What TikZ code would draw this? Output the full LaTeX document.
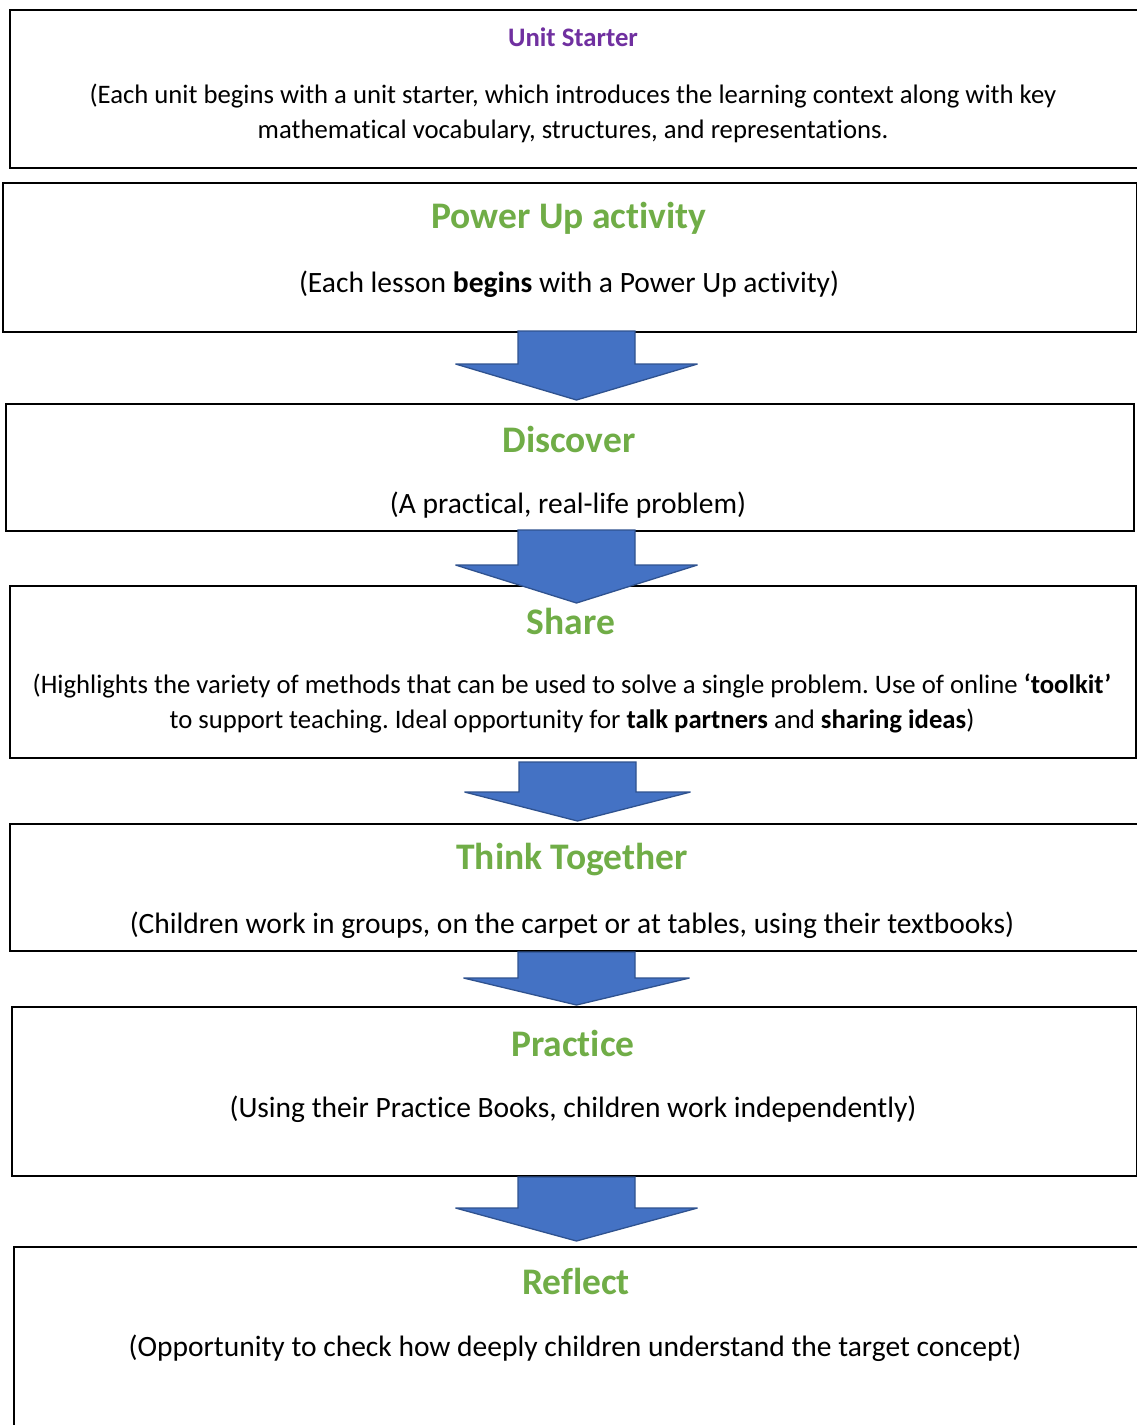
\documentclass[tikz,border=0pt]{standalone}
\usepackage{fontspec}
\setmainfont{Carlito}[Ligatures=NoCommon]
\frenchspacing
\definecolor{titlegreen}{HTML}{70AD47}
\definecolor{titlepurple}{HTML}{7030A0}
\definecolor{arrowfill}{HTML}{4472C4}
\definecolor{arrowedge}{HTML}{2F528F}
\newcommand{\flowarrow}[6]{% cx, top, shoulder, tip, half shaft, half wing
  \draw[blockarrow] ({#1-#5},#2) -- ({#1+#5},#2) -- ({#1+#5},#3) -- ({#1+#6},#3)
    -- (#1,#4) -- ({#1-#6},#3) -- ({#1-#5},#3) -- cycle;}
\begin{document}
\begin{tikzpicture}[x=1pt,y=-1pt,
  box/.style={draw=black, line width=1.8pt, fill=white, rectangle, anchor=north west, inner sep=0pt},
  blockarrow/.style={fill=arrowfill, draw=arrowedge, line width=1.3pt, line join=miter, miter limit=2},
  bodytext/.style={inner sep=0pt, align=center, font=\fontsize{29.5}{35}\selectfont, text=black},
  smallbody/.style={inner sep=0pt, align=center, font=\fontsize{26.7}{35}\selectfont, text=black},
  greentitle/.style={inner sep=0pt, font=\fontsize{37.5}{42}\selectfont\bfseries, text=titlegreen},
  purpletitle/.style={inner sep=0pt, font=\fontsize{26.7}{30}\selectfont\bfseries, text=titlepurple}]
\useasboundingbox (0,0) rectangle (1137,1425);
\clip (0,0) rectangle (1137,1425);
\fill[white] (0,0) rectangle (1137,1425);
% boxes
\node[box, minimum width=1150pt, minimum height=158pt] (unitbox) at (9,9) {};
\node[box, minimum width=1134pt, minimum height=149pt] (powerbox) at (2,182) {};
\node[box, minimum width=1128pt, minimum height=127pt] (discbox) at (5,403) {};
\node[box, minimum width=1126pt, minimum height=172pt] (sharebox) at (9,585) {};
\node[box, minimum width=1128pt, minimum height=127pt] (thinkbox) at (9,823) {};
\node[box, minimum width=1125pt, minimum height=169pt] (pracbox) at (11,1006) {};
\node[box, minimum width=1140pt, minimum height=200pt] (reflbox) at (13,1246) {};
% arrows
\flowarrow{576.5}{331}{364}{400}{58.5}{121}
\flowarrow{576.5}{530}{565}{603}{58.5}{121}
\flowarrow{577.5}{762}{792}{821}{58.5}{113}
\flowarrow{576.5}{952}{978}{1005}{58.5}{113}
\flowarrow{576.5}{1177}{1208}{1241}{58.5}{121}
% texts
\node[purpletitle] (unittitle) at (573,37.5) {Unit Starter};
\node[smallbody] (unitbody) at (573,113) {(Each unit begins with a unit starter, which introduces the learning context along with key\\mathematical vocabulary, structures, and representations.};
\node[greentitle] (powertitle) at (569,218.5) {Power Up activity};
\node[bodytext] (powerbody) at (569,284) {(Each lesson \textbf{begins} with a Power Up activity)};
\node[greentitle] (disctitle) at (569,439) {Discover};
\node[bodytext] (discbody) at (568,505) {(A practical, real-life problem)};
\node[greentitle] (sharetitle) at (571,621) {Share};
\node[smallbody] (sharebody) at (572,703) {(Highlights the variety of methods that can be used to solve a single problem. Use of online \textbf{‘toolkit’}\\to support teaching. Ideal opportunity for \textbf{talk partners} and \textbf{sharing ideas})};
\node[greentitle] (thinktitle) at (572,860) {Think Together};
\node[bodytext] (thinkbody) at (572,925) {(Children work in groups, on the carpet or at tables, using their textbooks)};
\node[greentitle] (practitle) at (573,1043.5) {Practice};
\node[bodytext] (pracbody) at (573,1109) {(Using their Practice Books, children work independently)};
\node[greentitle] (refltitle) at (576,1281.5) {Reflect};
\node[bodytext] (reflbody) at (575,1348) {(Opportunity to check how deeply children understand the target concept)};
\end{tikzpicture}
\end{document}
